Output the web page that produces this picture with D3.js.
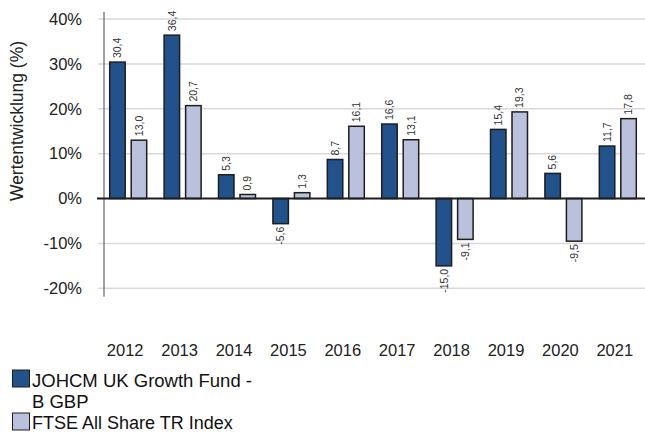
<!DOCTYPE html>
<html>
<head>
<meta charset="utf-8">
<script src="https://cdn.jsdelivr.net/npm/d3@7"></script>
<style>
  html, body { margin: 0; padding: 0; background: #fff; }
  svg { display: block; font-family: "Liberation Sans", Arial, sans-serif; }
</style>
</head>
<body>
<svg id="chart" width="645" height="432"></svg>
<script>
// data
const years = ["2012", "2013", "2014", "2015", "2016", "2017", "2018", "2019", "2020", "2021"];
const fundValues = [30.4, 36.4, 5.3, -5.6, 8.7, 16.6, -15.0, 15.4, 5.6, 11.7];
const indexValues = [13.0, 20.7, 0.9, 1.3, 16.1, 13.1, -9.1, 19.3, -9.5, 17.8];
const seriesNames = ["JOHCM UK Growth Fund - B GBP", "FTSE All Share TR Index"];
const yTicks = [-20, -10, 0, 10, 20, 30, 40];

const colors = ["#21528c", "#b9c1dc"];
const svg = d3.select("#chart");

const y = d3.scaleLinear().domain([-20, 40]).range([288.3, 19]);
const x0 = d3.scaleBand().domain(years).range([101, 645]).paddingInner(0.32).paddingOuter(0.16);
const x1 = d3.scaleBand().domain([0, 1]).range([0, x0.bandwidth()]).paddingInner(0.28);

// gridlines
svg.append("g")
  .selectAll("line")
  .data(yTicks.filter(t => t !== 0))
  .join("line")
  .attr("x1", 98).attr("x2", 645)
  .attr("y1", d => y(d)).attr("y2", d => y(d))
  .attr("stroke", "#d9d9d9")
  .attr("stroke-width", 1.5);

// y tick labels
svg.append("g")
  .selectAll("text")
  .data(yTicks)
  .join("text")
  .attr("x", 82)
  .attr("y", d => y(d))
  .attr("dy", "0.35em")
  .attr("text-anchor", "end")
  .attr("fill", "#222")
  .style("font-size", "16.5px")
  .text(d => d + "%");

// y axis line
svg.append("line")
  .attr("x1", 104).attr("x2", 104)
  .attr("y1", y(41.6)).attr("y2", y(-21.9))
  .attr("stroke", "#666")
  .attr("stroke-width", 1.2);

// y title
svg.append("text")
  .attr("transform", "translate(23,121) rotate(-90)")
  .attr("text-anchor", "middle")
  .attr("fill", "#222")
  .style("font-size", "17.5px")
  .text("Wertentwicklung (%)");

// bars
const rows = years.map((yr, i) => ({ year: yr, vals: [fundValues[i], indexValues[i]] }));
const groups = svg.append("g")
  .selectAll("g")
  .data(rows)
  .join("g")
  .attr("transform", d => `translate(${x0(d.year)},0)`);

groups.selectAll("rect")
  .data(d => d.vals.map((v, s) => ({ v, s })))
  .join("rect")
  .attr("x", d => x1(d.s))
  .attr("width", x1.bandwidth())
  .attr("y", d => y(Math.max(0, d.v)))
  .attr("height", d => Math.abs(y(d.v) - y(0)))
  .attr("fill", d => colors[d.s])
  .attr("stroke", "#1e1e1e")
  .attr("stroke-width", 1.5);

// value labels, rotated
const fmt = v => v.toFixed(1).replace(".", ",");
groups.selectAll("text")
  .data(d => d.vals.map((v, s) => ({ v, s })))
  .join("text")
  .attr("transform", d => {
    const cx = x1(d.s) + x1.bandwidth() / 2;
    const cy = d.v >= 0 ? y(d.v) - 4 : y(d.v) + 3;
    return `translate(${cx},${cy}) rotate(-90)`;
  })
  .attr("dy", "0.35em")
  .attr("text-anchor", d => d.v >= 0 ? "start" : "end")
  .attr("fill", "#333")
  .style("font-size", "10.5px")
  .text(d => fmt(d.v));

// zero line
svg.append("line")
  .attr("x1", 97).attr("x2", 645)
  .attr("y1", y(0)).attr("y2", y(0))
  .attr("stroke", "#1e1e1e")
  .attr("stroke-width", 2);

// x labels
svg.append("g")
  .selectAll("text")
  .data(years)
  .join("text")
  .attr("x", d => x0(d) + x0.bandwidth() / 2 - 3)
  .attr("y", 356)
  .attr("text-anchor", "middle")
  .attr("fill", "#222")
  .style("font-size", "16.5px")
  .text(d => d);

// legend
const legend = svg.append("g");
legend.append("rect").attr("x", 12.5).attr("y", 370).attr("width", 17).attr("height", 17)
  .attr("fill", colors[0]).attr("stroke", "#1e1e1e").attr("stroke-width", 1);
legend.append("rect").attr("x", 12.5).attr("y", 413).attr("width", 17).attr("height", 17)
  .attr("fill", colors[1]).attr("stroke", "#1e1e1e").attr("stroke-width", 1);
const lt = legend.append("text").attr("fill", "#111").style("font-size", "18.5px");
lt.append("tspan").attr("x", 32).attr("y", 387).text("JOHCM UK Growth Fund -");
lt.append("tspan").attr("x", 32).attr("y", 408).text("B GBP");
legend.append("text").attr("fill", "#111").style("font-size", "18px")
  .attr("x", 32).attr("y", 428.5).text(seriesNames[1]);
</script>
</body>
</html>
